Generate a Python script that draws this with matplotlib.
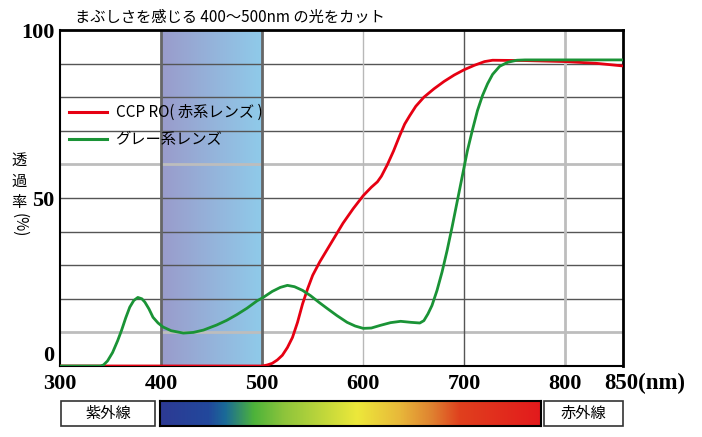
import numpy as np
import matplotlib
matplotlib.use('Agg')
import matplotlib.pyplot as plt
from matplotlib.colors import LinearSegmentedColormap
from matplotlib.lines import Line2D
from matplotlib.patches import Rectangle

jp = 'Noto Sans CJK JP'
num_font = dict(family='Liberation Serif', weight='bold', size=16)

# transmittance curves (wavelength nm, transmittance %)
red_nm = [300, 500, 505, 510, 515, 520, 525, 530, 535, 540, 545, 550, 557, 565, 572,
          580, 590, 600, 608, 614, 618, 624, 630, 636, 641, 646, 652, 660, 670, 680,
          690, 700, 710, 720, 728, 760, 800, 830, 857]
red_t = [0, 0, 0.3, 0.8, 1.8, 3.2, 5.5, 8.5, 13, 18.5, 23, 27, 31, 35, 38.5,
         42.5, 46.8, 50.7, 53.2, 54.8, 56.5, 60, 64, 68.5, 72, 74.5, 77.3, 80, 82.5, 84.7,
         86.6, 88.2, 89.5, 90.6, 91, 90.9, 90.6, 90.1, 89.3]

green_nm = [300, 340, 343, 347, 352, 357, 361, 365, 369, 373, 377, 381, 384, 388, 392,
            397, 402, 410, 422, 432, 442, 455, 465, 475, 485, 495, 501, 510, 518, 525,
            532, 540, 548, 556, 564, 574, 584, 592, 600, 608, 617, 627, 637, 647, 656,
            660, 664, 668, 673, 678, 683, 688, 693, 698, 703, 708, 713, 718, 723, 728,
            735, 743, 752, 760, 857]
green_t = [0, 0, 0.3, 1.5, 4, 7.5, 10.7, 14.3, 17.5, 19.5, 20.4, 20, 19, 17, 14.5,
           12.8, 11.6, 10.5, 9.8, 10, 10.7, 12.2, 13.6, 15.3, 17.2, 19.4, 20.4, 22.2, 23.4, 24,
           23.6, 22.5, 20.9, 19, 17.2, 15, 13, 11.9, 11.2, 11.3, 12.1, 12.9, 13.3, 13, 12.8,
           13.5, 15.5, 18, 22.5, 28, 34.4, 41.5, 49, 56.5, 64, 70.2, 76, 80.5, 84, 86.8,
           89.2, 90.4, 91, 91.1, 91.1]

series_labels = ['CCP RO( 赤系レンズ )', 'グレー系レンズ']
x_ticks = [300, 400, 500, 600, 700, 800]
y_ticks = [0, 50, 100]
title = 'まぶしさを感じる 400〜500nm の光をカット'
ylabel_chars = ['透', '過', '率']

fig = plt.figure(figsize=(7.02, 4.37), dpi=100)
ax = fig.add_axes([60/702, 1-366/437, 563/702, 336/437])

# blue-light band 400-500nm
band_cmap = LinearSegmentedColormap.from_list('band', ['#9a9bcb', '#8fcbea'])
ax.imshow(np.linspace(0, 1, 256).reshape(1, -1), extent=[400, 500, 0, 100],
          aspect='auto', cmap=band_cmap, zorder=0)

# grid
for yv in range(10, 100, 10):
    if yv in (10, 60):
        ax.axhline(yv, color='#bdbdbd', lw=2, zorder=1)
    else:
        ax.axhline(yv, color='#555555', lw=1, zorder=1)
for xv, c, w in [(400, '#666666', 2), (500, '#666666', 2), (600, '#b8b8b8', 1),
                 (700, '#555555', 1), (800, '#bdbdbd', 2)]:
    ax.axvline(xv, color=c, lw=w, zorder=1)

ax.plot(red_nm, red_t, color='#e60012', lw=2, zorder=3)
ax.plot(green_nm, green_t, color='#1a9336', lw=2, zorder=4)

ax.set_xlim(300, 857)
ax.set_ylim(0, 100)
ax.set_xticks(x_ticks)
ax.set_xticklabels([str(v) for v in x_ticks], fontdict=num_font)
ax.set_yticks(y_ticks)
ax.set_yticklabels([str(v) for v in y_ticks], fontdict=num_font)
ax.tick_params(length=0)
ax.tick_params(axis='x', pad=6)
ax.tick_params(axis='y', pad=4)
ax.get_yticklabels()[0].set_va('bottom')
ax.text(0.967, -0.051, '850(nm)', transform=ax.transAxes, ha='left', va='center',
        family='Liberation Serif', weight='bold', size=16.5)

for side, w in [('top', 2), ('right', 2), ('left', 1.5), ('bottom', 1.5)]:
    ax.spines[side].set_linewidth(w)
    ax.spines[side].set_color('black')

handles = [Line2D([], [], color='#e60012', lw=2.2), Line2D([], [], color='#1a9336', lw=2.2)]
ax.legend(handles, series_labels, loc='upper left', bbox_to_anchor=(0.016, 0.78),
          frameon=False, prop={'family': jp, 'size': 11}, handlelength=2.5,
          handletextpad=0.55, labelspacing=0.65, borderpad=0, borderaxespad=0)

fig.text(75/702, 1-17/437, title, family=jp, fontsize=11, ha='left', va='center')

# vertical y label
for ch, yp in zip(ylabel_chars, [160, 181, 202]):
    fig.text(19/702, 1-yp/437, ch, family=jp, fontsize=11, ha='center', va='center')
fig.text(19/702, 1-225/437, '(%)', family=jp, fontsize=11, ha='center', va='center',
         rotation=-90)

# spectrum bar
spec_cmap = LinearSegmentedColormap.from_list('spec', [
    (0, '#2d3a94'), (0.126, '#22489c'), (0.17, '#1a6a98'), (0.246, '#4db33a'),
    (0.325, '#8dc43c'), (0.518, '#ede83a'), (0.63, '#e8b83a'), (0.717, '#df8030'),
    (0.788, '#e0401e'), (1, '#e31a1c')])
sax = fig.add_axes([160/702, 1-426/437, 381/702, 25/437])
sax.imshow(np.linspace(0, 1, 512).reshape(1, -1), aspect='auto', cmap=spec_cmap)
sax.set_xticks([])
sax.set_yticks([])
for s in sax.spines.values():
    s.set_linewidth(1.5)

for x0, x1, lab in [(61, 155, '紫外線'), (544, 623, '赤外線')]:
    fig.patches.append(Rectangle((x0/702, 1-426/437), (x1-x0)/702, 25/437,
                                 transform=fig.transFigure, facecolor='white',
                                 edgecolor='#333333', lw=1.2))
    fig.text((x0+x1)/2/702, 1-413.5/437, lab, family=jp, fontsize=11,
             ha='center', va='center')

plt.savefig('out.png', dpi=100)
